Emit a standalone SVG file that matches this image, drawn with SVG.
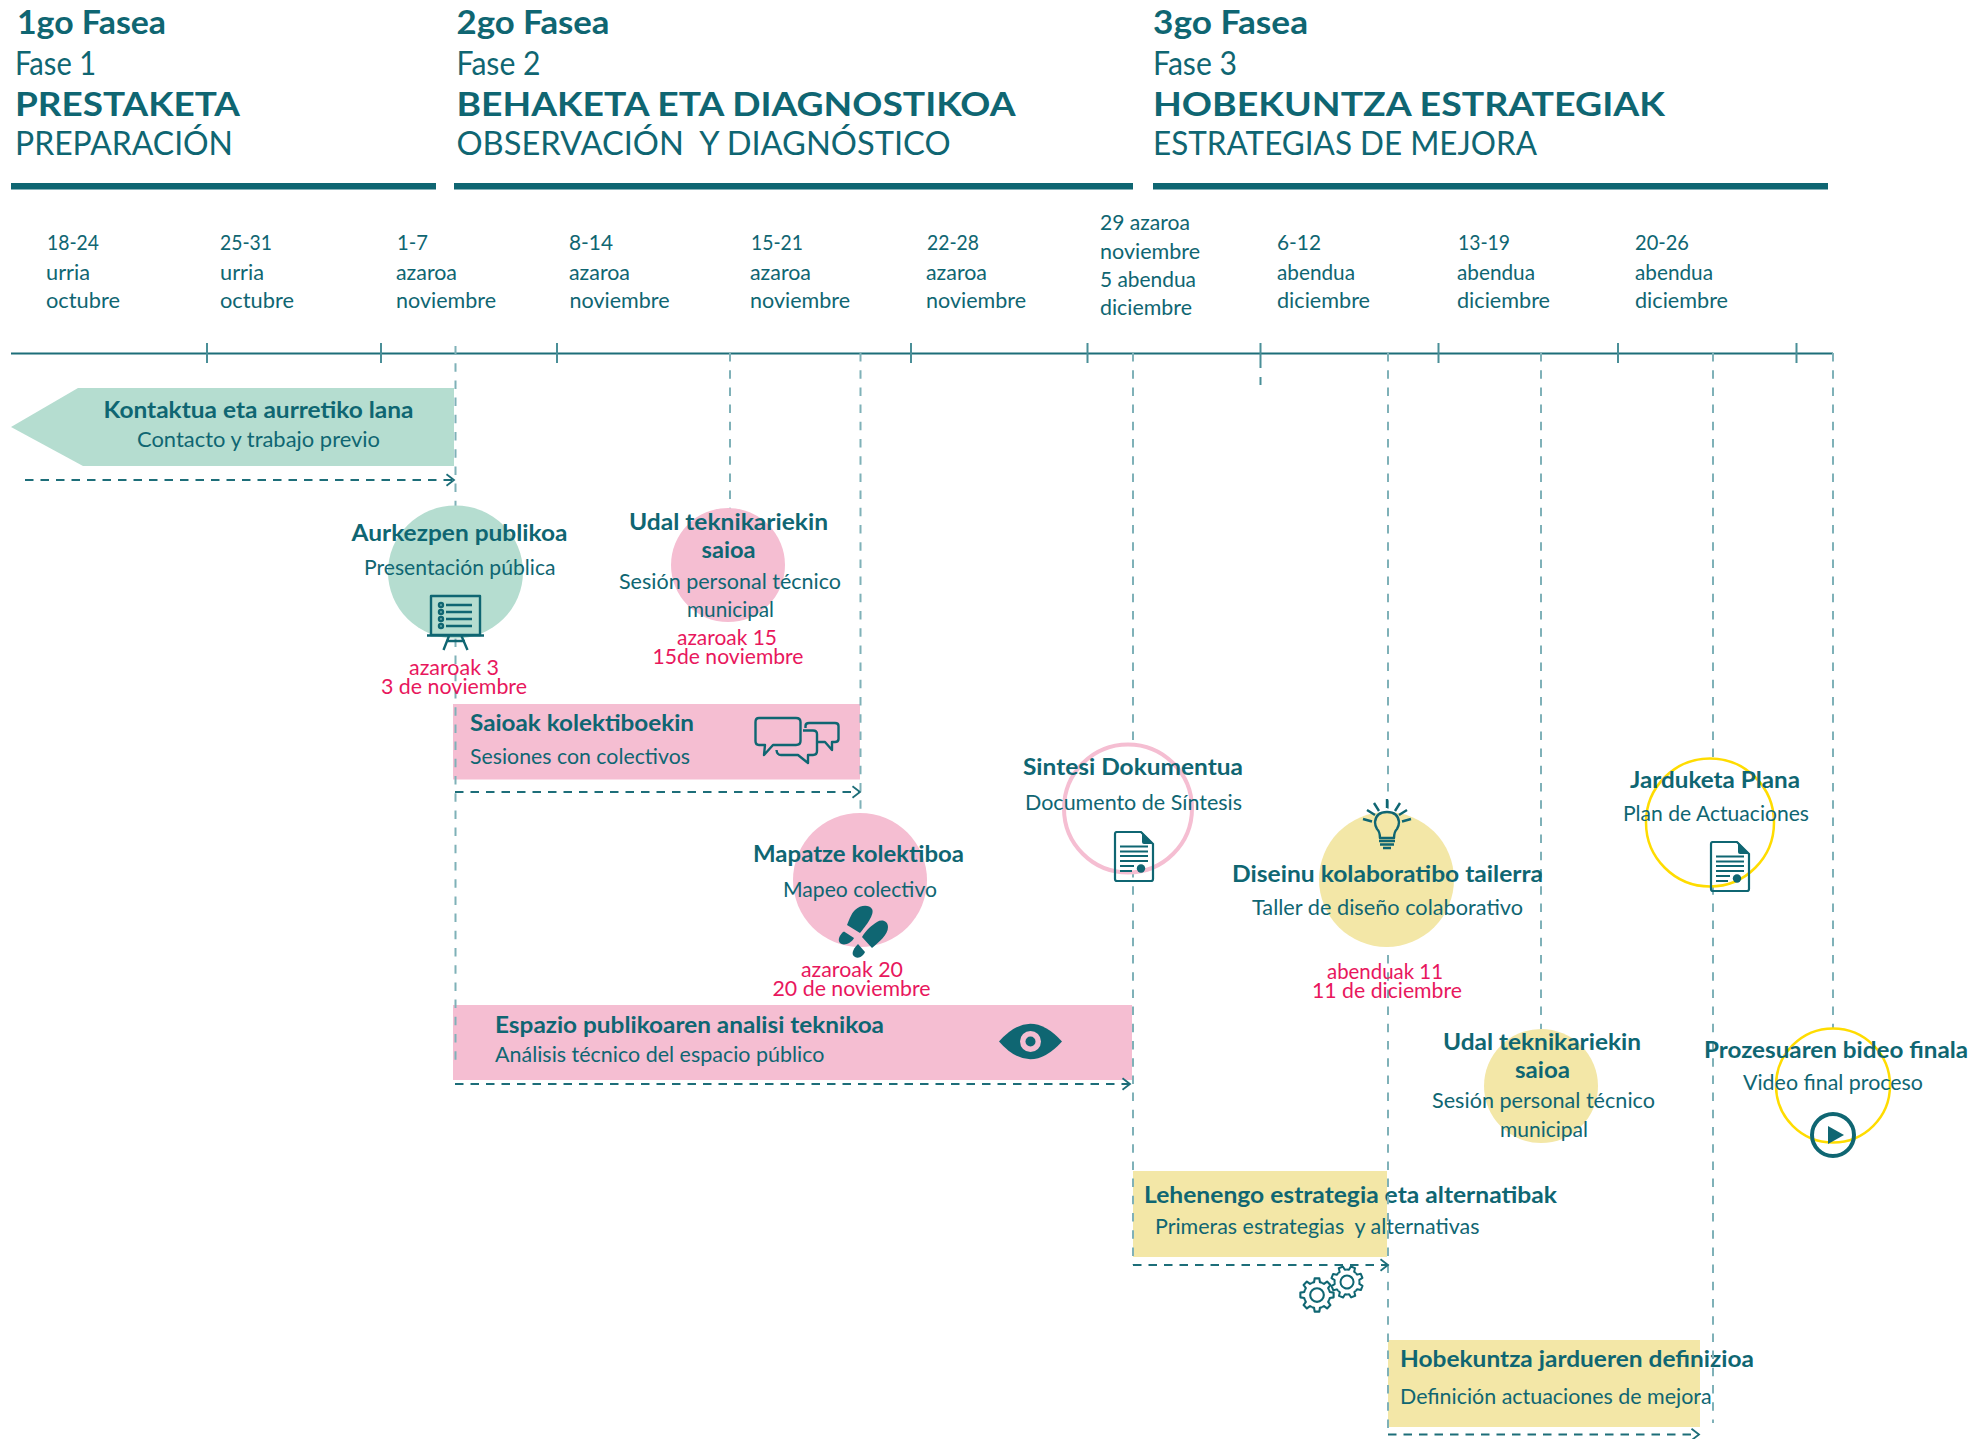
<svg xmlns="http://www.w3.org/2000/svg" width="1978" height="1439" viewBox="0 0 1978 1439">
<style>
text{font-family:"Lato","Liberation Sans",sans-serif;fill:#0f6672;font-size:22px}
.b{font-weight:700}
.h{font-size:32px}
.hb{font-size:32px;font-weight:700}
.d{font-size:21px}
.m{fill:#e8175d}
.bar{fill:#0f6672}
.axis{stroke:#1d6e79;stroke-width:1.8;fill:none}
.tick{stroke:#4a8f98;stroke-width:2;fill:none}
.v{stroke:#7fb1b8;stroke-width:2;stroke-dasharray:8.5 8.7;fill:none}
.a{stroke:#1d6e79;stroke-width:1.8;stroke-dasharray:8.5 7;fill:none;marker-end:url(#arr)}
.ic{stroke:#0f6672;stroke-width:2.4;fill:none;stroke-linejoin:round}
.icf{fill:#0f6672}
.mint{fill:#b5ddd0}
.pink{fill:#f5bed2}
.yel{fill:#f3e7a7}
</style>
<defs>
<marker id="arr" markerWidth="12" markerHeight="14" refX="9.500" refY="7" orient="auto" markerUnits="userSpaceOnUse"><path d="M2 1.200L9.500 7L2 12.800" fill="none" stroke="#1d6e79" stroke-width="1.800"/></marker>
<path id="tooth" d="M11.55 -4.78L12.18 -2.81L15.84 -2.23L15.84 2.23L12.18 2.81L11.55 4.78" fill="none" stroke="#0f6672" stroke-width="2" stroke-linejoin="round"/>
<g id="gear">
<use href="#tooth"/><use href="#tooth" transform="rotate(45)"/><use href="#tooth" transform="rotate(90)"/><use href="#tooth" transform="rotate(135)"/><use href="#tooth" transform="rotate(180)"/><use href="#tooth" transform="rotate(225)"/><use href="#tooth" transform="rotate(270)"/><use href="#tooth" transform="rotate(315)"/>
<circle r="6.500" fill="none" stroke="#0f6672" stroke-width="2"/>
</g>
<g id="doc">
<path d="M1.500 0H27L39 12V47Q39 49 37 49H3Q1 49 1 47V2Q1 0 3 0Z" fill="none" stroke="#0f6672" stroke-width="2.200"/>
<path d="M28 0L39 12H30Q28 12 28 10Z" fill="#0f6672"/>
<path d="M6 14.500H34M6 19.500H34M6 24H34M6 29H34M6 34H20M6 39H18" stroke="#0f6672" stroke-width="2" fill="none"/>
<circle cx="27" cy="36.500" r="4.200" fill="#0f6672"/>
</g>
</defs>

<g id="fase1">
<text class="hb" x="17" y="34" textLength="149" lengthAdjust="spacingAndGlyphs">1go Fasea</text>
<text class="h" x="15" y="75" textLength="81" lengthAdjust="spacingAndGlyphs">Fase 1</text>
<text class="hb" x="15" y="115.500" textLength="225" lengthAdjust="spacingAndGlyphs">PRESTAKETA</text>
<text class="h" x="15" y="155" textLength="218" lengthAdjust="spacingAndGlyphs">PREPARACIÓN</text>
<rect class="bar" x="11" y="183" width="425" height="6.500"/>
</g>
<g id="fase2">
<text class="hb" x="456.500" y="34" textLength="153" lengthAdjust="spacingAndGlyphs">2go Fasea</text>
<text class="h" x="456.500" y="75" textLength="84" lengthAdjust="spacingAndGlyphs">Fase 2</text>
<text class="hb" x="456.500" y="115.500" textLength="559" lengthAdjust="spacingAndGlyphs">BEHAKETA ETA DIAGNOSTIKOA</text>
<text class="h" x="456.500" y="155" textLength="494" lengthAdjust="spacingAndGlyphs" xml:space="preserve">OBSERVACIÓN  Y DIAGNÓSTICO</text>
<rect class="bar" x="454" y="183" width="679" height="6.500"/>
</g>
<g id="fase3">
<text class="hb" x="1153" y="34" textLength="155" lengthAdjust="spacingAndGlyphs">3go Fasea</text>
<text class="h" x="1153" y="75" textLength="84" lengthAdjust="spacingAndGlyphs">Fase 3</text>
<text class="hb" x="1153" y="115.500" textLength="512" lengthAdjust="spacingAndGlyphs">HOBEKUNTZA ESTRATEGIAK</text>
<text class="h" x="1153" y="155" textLength="384" lengthAdjust="spacingAndGlyphs">ESTRATEGIAS DE MEJORA</text>
<rect class="bar" x="1153" y="183" width="675" height="6.500"/>
</g>

<g id="dates">
<g id="w1"><text class="d" x="47" y="250" textLength="52" lengthAdjust="spacingAndGlyphs">18-24</text><text class="d" x="46" y="280" textLength="44" lengthAdjust="spacingAndGlyphs">urria</text><text class="d" x="46" y="308" textLength="74" lengthAdjust="spacingAndGlyphs">octubre</text></g>
<g id="w2"><text class="d" x="220" y="250" textLength="52" lengthAdjust="spacingAndGlyphs">25-31</text><text class="d" x="220" y="280" textLength="44" lengthAdjust="spacingAndGlyphs">urria</text><text class="d" x="220" y="308" textLength="74" lengthAdjust="spacingAndGlyphs">octubre</text></g>
<g id="w3"><text class="d" x="397" y="250" textLength="31" lengthAdjust="spacingAndGlyphs">1-7</text><text class="d" x="396" y="280" textLength="61" lengthAdjust="spacingAndGlyphs">azaroa</text><text class="d" x="396" y="308" textLength="100" lengthAdjust="spacingAndGlyphs">noviembre</text></g>
<g id="w4"><text class="d" x="569" y="250" textLength="44" lengthAdjust="spacingAndGlyphs">8-14</text><text class="d" x="569" y="280" textLength="61" lengthAdjust="spacingAndGlyphs">azaroa</text><text class="d" x="569.500" y="308" textLength="100" lengthAdjust="spacingAndGlyphs">noviembre</text></g>
<g id="w5"><text class="d" x="751" y="250" textLength="52" lengthAdjust="spacingAndGlyphs">15-21</text><text class="d" x="750" y="280" textLength="61" lengthAdjust="spacingAndGlyphs">azaroa</text><text class="d" x="750" y="308" textLength="100" lengthAdjust="spacingAndGlyphs">noviembre</text></g>
<g id="w6"><text class="d" x="927" y="250" textLength="52" lengthAdjust="spacingAndGlyphs">22-28</text><text class="d" x="926" y="280" textLength="61" lengthAdjust="spacingAndGlyphs">azaroa</text><text class="d" x="926" y="308" textLength="100" lengthAdjust="spacingAndGlyphs">noviembre</text></g>
<g id="w7"><text class="d" x="1100" y="230" textLength="90" lengthAdjust="spacingAndGlyphs">29 azaroa</text><text class="d" x="1100" y="259" textLength="100" lengthAdjust="spacingAndGlyphs">noviembre</text><text class="d" x="1100" y="287" textLength="96" lengthAdjust="spacingAndGlyphs">5 abendua</text><text class="d" x="1100" y="315" textLength="92" lengthAdjust="spacingAndGlyphs">diciembre</text></g>
<g id="w8"><text class="d" x="1277" y="250" textLength="44" lengthAdjust="spacingAndGlyphs">6-12</text><text class="d" x="1277" y="280" textLength="78" lengthAdjust="spacingAndGlyphs">abendua</text><text class="d" x="1277" y="308" textLength="93" lengthAdjust="spacingAndGlyphs">diciembre</text></g>
<g id="w9"><text class="d" x="1458" y="250" textLength="52" lengthAdjust="spacingAndGlyphs">13-19</text><text class="d" x="1457" y="280" textLength="78" lengthAdjust="spacingAndGlyphs">abendua</text><text class="d" x="1457" y="308" textLength="93" lengthAdjust="spacingAndGlyphs">diciembre</text></g>
<g id="w10"><text class="d" x="1635" y="250" textLength="54" lengthAdjust="spacingAndGlyphs">20-26</text><text class="d" x="1635" y="280" textLength="78" lengthAdjust="spacingAndGlyphs">abendua</text><text class="d" x="1635" y="308" textLength="93" lengthAdjust="spacingAndGlyphs">diciembre</text></g>
</g>

<g id="axis">
<path class="axis" d="M11 353.500H1833"/>
<path class="tick" d="M207 343V363M381 343V363M557 343V363M911 343V363M1087.500 343V363M1260.500 343V368M1260.500 377V385M1438.500 343V363M1618 343V363M1796.500 343V363"/>
</g>

<g id="node-kontaktua">
<polygon class="mint" points="11,427 78,388 454,388 454,466 83,466"/>
<text class="b" x="103.500" y="418" textLength="310" lengthAdjust="spacingAndGlyphs">Kontaktua eta aurretiko lana</text>
<text x="137" y="447" textLength="243" lengthAdjust="spacingAndGlyphs">Contacto y trabajo previo</text>
</g>
<g id="node-saioak">
<rect class="pink" x="453" y="704" width="407" height="75.500"/>
<text class="b" x="470" y="731" textLength="224" lengthAdjust="spacingAndGlyphs">Saioak kolektiboekin</text>
<text x="470" y="764" textLength="220" lengthAdjust="spacingAndGlyphs">Sesiones con colectivos</text>
<path class="ic" d="M759 718H796Q800.500 718 800.500 722V741Q800.500 745 796 745H773L764 755L765 745H759Q755.500 745 755.500 741V722Q755.500 718 759 718Z" stroke-width="3"/>
<path class="ic" d="M803 730.500H813Q817 730.500 817 734V751Q817 755 813 755H808V763L798 755H781Q777 755 776.500 750" stroke-width="3"/>
<path class="ic" d="M805.500 728V726Q805.500 723 809 723H835Q838.500 723 838.500 726V739Q838.500 742 835 742H832V750L825 742H817" stroke-width="3"/>
</g>
<g id="node-espazio">
<rect class="pink" x="453" y="1005" width="679" height="75"/>
<text class="b" x="495" y="1033" textLength="389" lengthAdjust="spacingAndGlyphs">Espazio publikoaren analisi teknikoa</text>
<text x="495" y="1062" textLength="329.500" lengthAdjust="spacingAndGlyphs">Análisis técnico del espacio público</text>
<path class="icf" d="M999 1041.500Q1030 1006 1062 1041.500Q1030 1077 999 1041.500Z"/>
<circle class="pink" cx="1030.500" cy="1041.500" r="10.500"/>
<circle class="icf" cx="1030.500" cy="1041.500" r="5"/>
</g>
<g id="node-lehenengo">
<rect class="yel" x="1133" y="1171" width="254" height="86"/>
<text class="b" x="1144" y="1203" textLength="413" lengthAdjust="spacingAndGlyphs">Lehenengo estrategia eta alternatibak</text>
<text x="1155" y="1234" textLength="324.500" lengthAdjust="spacingAndGlyphs" xml:space="preserve">Primeras estrategias  y alternativas</text>
<use href="#gear" transform="translate(1317 1295) scale(1.05)"/>
<use href="#gear" transform="translate(1347 1282) rotate(22)"/>
</g>
<g id="node-hobekuntza">
<rect class="yel" x="1388" y="1340" width="312" height="87"/>
<text class="b" x="1400" y="1367" textLength="354" lengthAdjust="spacingAndGlyphs">Hobekuntza jardueren definizioa</text>
<text x="1400" y="1404" textLength="311.600" lengthAdjust="spacingAndGlyphs">Definición actuaciones de mejora</text>
</g>

<g id="connectors">
<path class="v" d="M455.500 346V1068M730 353V520M860.500 353V830M1133 353V1265M1388 353V1428M1541 353V1040M1713 353V1423M1833 353V1040"/>
<path class="a" d="M25 480H454"/>
<path class="a" d="M455 792H860"/>
<path class="a" d="M455 1084H1130"/>
<path class="a" d="M1133 1265H1388"/>
<path class="a" d="M1388 1434.500H1699"/>
</g>

<g id="node-aurkezpen">
<ellipse class="mint" cx="455.500" cy="572" rx="67.500" ry="66.500"/>
<rect class="ic" x="431" y="596" width="49" height="39"/>
<path class="ic" d="M427 635.500H484M449 636L443.500 650M461.500 636L467.500 650M446 641H465"/>
<path class="ic" d="M446 605H472M446 612H472M446 619H472M446 626H472" stroke-width="2"/>
<circle class="ic" cx="441" cy="605" r="2" stroke-width="1.500"/><circle class="ic" cx="441" cy="612" r="2" stroke-width="1.500"/><circle class="ic" cx="441" cy="619" r="2" stroke-width="1.500"/><circle class="ic" cx="441" cy="626" r="2" stroke-width="1.500"/>
<text class="b" x="351.500" y="541" textLength="216" lengthAdjust="spacingAndGlyphs">Aurkezpen publikoa</text>
<text x="364" y="575" textLength="191.500" lengthAdjust="spacingAndGlyphs">Presentación pública</text>
<text class="m" x="409" y="675" textLength="90" lengthAdjust="spacingAndGlyphs">azaroak 3</text>
<text class="m" x="381" y="694" textLength="146" lengthAdjust="spacingAndGlyphs">3 de noviembre</text>
</g>
<g id="node-udal1">
<circle class="pink" cx="728" cy="565" r="57"/>
<text class="b" x="629" y="530" textLength="199" lengthAdjust="spacingAndGlyphs">Udal teknikariekin</text>
<text class="b" x="701.500" y="558" textLength="54" lengthAdjust="spacingAndGlyphs">saioa</text>
<text x="619" y="589" textLength="222" lengthAdjust="spacingAndGlyphs">Sesión personal técnico</text>
<text x="687" y="617" textLength="87" lengthAdjust="spacingAndGlyphs">municipal</text>
<text class="m" x="677" y="645" textLength="100" lengthAdjust="spacingAndGlyphs">azaroak 15</text>
<text class="m" x="652.500" y="664" textLength="151" lengthAdjust="spacingAndGlyphs">15de noviembre</text>
</g>
<g id="node-mapatze">
<circle class="pink" cx="860" cy="880" r="67"/>
<text class="b" x="753" y="862" textLength="211" lengthAdjust="spacingAndGlyphs">Mapatze kolektiboa</text>
<text x="783" y="897" textLength="154" lengthAdjust="spacingAndGlyphs">Mapeo colectivo</text>
<path class="icf" d="M847 925C850 918 851 914 855 910C860 905 869 904 872 909C875 914 866 926 860 933Z"/>
<path class="icf" d="M844 931.500L854 938C851 944 843 946 840 943C837 940 840 934 844 931.500Z"/>
<path class="icf" d="M862 937C866 930 872 925 877 922C882 919 888 921 888 927C888 935 879 942 872 948Z"/>
<path class="icf" d="M858 944L865 952C863 956 859 959 855 957C851 955 852 950 858 944Z"/>
<text class="m" x="801" y="977" textLength="102" lengthAdjust="spacingAndGlyphs">azaroak 20</text>
<text class="m" x="772.500" y="996" textLength="158" lengthAdjust="spacingAndGlyphs">20 de noviembre</text>
</g>
<g id="node-sintesi">
<circle cx="1128" cy="808.500" r="64" fill="#fff" stroke="#f5bed2" stroke-width="4"/>
<use href="#doc" transform="translate(1114 832)"/>
<text class="b" x="1023" y="775" textLength="220" lengthAdjust="spacingAndGlyphs">Sintesi Dokumentua</text>
<text x="1025" y="810" textLength="217" lengthAdjust="spacingAndGlyphs">Documento de Síntesis</text>
</g>
<g id="node-diseinu">
<circle class="yel" cx="1386.500" cy="879.500" r="67.500"/>
<path class="ic" d="M1380 838Q1380 832 1377 829Q1375 826 1375 822Q1376 812 1387 812Q1398 812 1399 822Q1399 826 1397 829Q1394 832 1394 838Z" stroke-width="2.200"/>
<path class="ic" d="M1379 841H1395M1380 844.500H1394M1383 848H1391M1387 799V808M1374 803L1379 811M1400 803L1395 811M1367 810L1375 815M1407 810L1399 815M1363 819L1372 821.500M1411 819L1402 821.500" stroke-width="2"/>
<text class="b" x="1232" y="882" textLength="311" lengthAdjust="spacingAndGlyphs">Diseinu kolaboratibo tailerra</text>
<text x="1252" y="915" textLength="271" lengthAdjust="spacingAndGlyphs">Taller de diseño colaborativo</text>
<text class="m" x="1327" y="979" textLength="116" lengthAdjust="spacingAndGlyphs">abenduak 11</text>
<text class="m" x="1312" y="998" textLength="150" lengthAdjust="spacingAndGlyphs">11 de diciembre</text>
</g>
<g id="node-udal2">
<circle class="yel" cx="1541" cy="1086" r="57"/>
<text class="b" x="1443" y="1050" textLength="198" lengthAdjust="spacingAndGlyphs">Udal teknikariekin</text>
<text class="b" x="1515" y="1078" textLength="55" lengthAdjust="spacingAndGlyphs">saioa</text>
<text x="1432" y="1108" textLength="223" lengthAdjust="spacingAndGlyphs">Sesión personal técnico</text>
<text x="1500" y="1137" textLength="88" lengthAdjust="spacingAndGlyphs">municipal</text>
</g>
<g id="node-jarduketa">
<circle cx="1710" cy="822.500" r="64" fill="#fff" stroke="#ffdc00" stroke-width="2.500"/>
<use href="#doc" transform="translate(1710 842)"/>
<text class="b" x="1630" y="788" textLength="170" lengthAdjust="spacingAndGlyphs">Jarduketa Plana</text>
<text x="1623" y="821" textLength="186" lengthAdjust="spacingAndGlyphs">Plan de Actuaciones</text>
</g>
<g id="node-prozesua">
<circle cx="1833" cy="1085.500" r="57" fill="#fff" stroke="#ffdc00" stroke-width="2.500"/>
<circle cx="1833" cy="1135" r="21" fill="none" stroke="#0f6672" stroke-width="4"/>
<polygon class="icf" points="1828,1126 1844,1135 1828,1144"/>
<text class="b" x="1704" y="1058" textLength="264" lengthAdjust="spacingAndGlyphs">Prozesuaren bideo finala</text>
<text x="1743" y="1090" textLength="180" lengthAdjust="spacingAndGlyphs">Video final proceso</text>
</g>
</svg>
